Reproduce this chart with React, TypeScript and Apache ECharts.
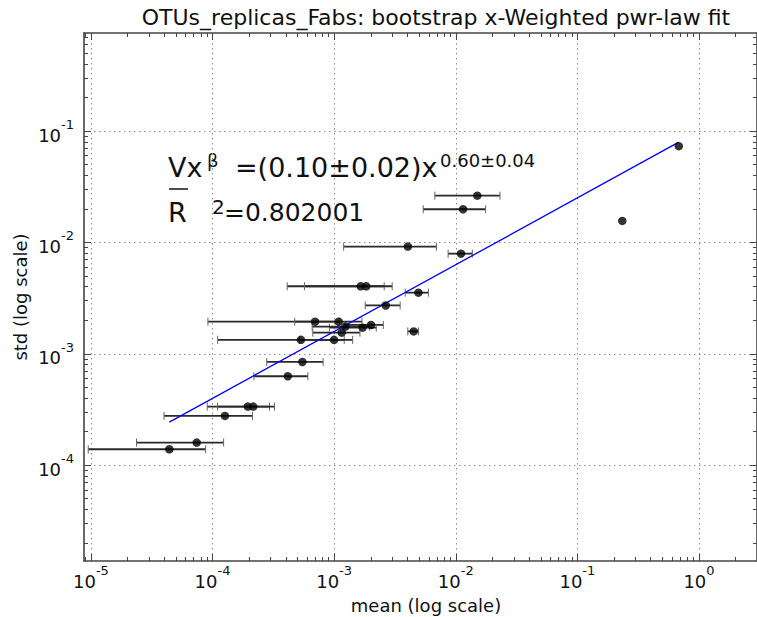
import React, { useEffect, useRef } from "react";
import * as echarts from "echarts";

const FONT = "DejaVu Sans, Verdana, sans-serif";

// Per-OTU mean abundance and standard deviation across replicas
const meanValues = [
  0.682, 0.234, 0.01503, 0.01148, 0.00404, 0.01104, 0.001655, 0.001836, 0.00493,
  0.002655, 0.000697, 0.001089, 0.00201, 0.001714, 0.001236, 0.001154, 0.00451,
  0.000533, 0.000998, 0.000548, 0.000416, 0.000195, 0.000216, 0.0001265, 0.0000741,
  0.0000441,
];
const stdValues = [
  0.0731, 0.0156, 0.0263, 0.01986, 0.00917, 0.00793, 0.00404, 0.00404, 0.00354,
  0.002716, 0.001945, 0.001945, 0.001815, 0.001718, 0.001755, 0.001549, 0.00159,
  0.001334, 0.001334, 0.000845, 0.000629, 0.000336, 0.000336, 0.000277, 0.0001596,
  0.000139,
];
// Bootstrap interval of the mean (horizontal error bars)
const meanLow = [
  0.682, 0.234, 0.00673, 0.0054, 0.001197, 0.00865, 0.000411, 0.00057, 0.00384,
  0.0018, 0.0000916, 0.000474, 0.00121, 0.000914, 0.000659, 0.000667, 0.00403,
  0.0001102, 0.000519, 0.000279, 0.000219, 0.0000905, 0.00011, 0.0000399, 0.0000237,
  0.0000095,
];
const meanHigh = [
  0.682, 0.234, 0.0231, 0.0176, 0.00693, 0.01368, 0.00258, 0.003, 0.00596, 0.00349,
  0.0011, 0.001694, 0.002535, 0.00222, 0.00195, 0.00163, 0.00493, 0.00121, 0.00142,
  0.000811, 0.000608, 0.000294, 0.000323, 0.000213, 0.0001233, 0.0000877,
];

// Fitted power law: std = V * mean^beta
const fitV = 0.1;
const fitBeta = 0.6;

const xTickExponents = [-5, -4, -3, -2, -1, 0];
const yTickExponents = [-4, -3, -2, -1];

const X_MIN = -5.057;
const X_MAX = 0.477;
const Y_MIN = -4.86;
const Y_MAX = -0.12;

const log10 = (v: number) => Math.log10(v);

function minorTicks(lo: number, hi: number): number[] {
  const out: number[] = [];
  for (let e = Math.floor(lo) - 1; e <= Math.ceil(hi); e++) {
    for (let k = 2; k <= 9; k++) {
      const v = e + Math.log10(k);
      if (v > lo && v < hi) out.push(v);
    }
  }
  return out;
}

const AXIS_COLOR = "#444";
const GRID_COLOR = "#8c8c8c";
const TEXT_COLOR = "#111";

const powerLabel = (v: number) => `{b|10}{s|${Math.round(v)}}`;
const powerRich = {
  b: { fontSize: 18, fontFamily: FONT, color: TEXT_COLOR, verticalAlign: "bottom", lineHeight: 26 },
  s: { fontSize: 13, fontFamily: FONT, color: TEXT_COLOR, verticalAlign: "top", lineHeight: 14 },
};

export default function App() {
  const ref = useRef<HTMLDivElement>(null);

  useEffect(() => {
    document.body.style.margin = "0";
    if (!ref.current) return;
    const chart = echarts.init(ref.current, undefined, { renderer: "svg" });

    const points = meanValues.map((m, i) => [log10(m), log10(stdValues[i])]);
    const bars = meanValues.map((_, i) => [log10(meanLow[i]), log10(meanHigh[i]), log10(stdValues[i])]);
    const xFirst = Math.min(...meanValues);
    const xLast = Math.max(...meanValues);
    const fitLine = [
      [log10(xFirst), log10(fitV) + fitBeta * log10(xFirst)],
      [log10(xLast), log10(fitV) + fitBeta * log10(xLast)],
    ];

    const xMinor = minorTicks(X_MIN, X_MAX);
    const yMinor = minorTicks(Y_MIN, Y_MAX);

    const gridRect = { left: 84, top: 33, width: 675, height: 528 };

    const visibleLine = { show: true, onZero: false, lineStyle: { color: AXIS_COLOR, width: 1.6 } };
    const hiddenLine = { show: false, onZero: false };

    const majorTick = (vals: number[]) => ({
      show: true,
      inside: true,
      length: 7,
      customValues: vals,
      lineStyle: { color: AXIS_COLOR, width: 1 },
    });
    const minorTick = (vals: number[]) => ({
      show: true,
      inside: true,
      length: 4,
      customValues: vals,
      lineStyle: { color: AXIS_COLOR, width: 1 },
    });
    const gridLine = { show: true, lineStyle: { color: GRID_COLOR, width: 1, type: [1.5, 3.5] } };

    const xAxis = (grid: number, position: string, major: boolean, labels: boolean) => ({
      type: "value",
      gridIndex: grid,
      position,
      min: X_MIN,
      max: X_MAX,
      axisLine: major ? visibleLine : hiddenLine,
      axisTick: major ? majorTick(xTickExponents) : minorTick(xMinor),
      axisLabel: labels
        ? { show: true, customValues: xTickExponents, formatter: powerLabel, rich: powerRich, margin: 3 }
        : { show: false },
      splitLine: labels ? gridLine : { show: false },
    });
    const yAxis = (grid: number, position: string, major: boolean, labels: boolean) => ({
      type: "value",
      gridIndex: grid,
      position,
      min: Y_MIN,
      max: Y_MAX,
      axisLine: major ? visibleLine : hiddenLine,
      axisTick: major ? majorTick(yTickExponents) : minorTick(yMinor),
      axisLabel: labels
        ? { show: true, customValues: yTickExponents, formatter: powerLabel, rich: powerRich, margin: 10 }
        : { show: false },
      splitLine: labels ? gridLine : { show: false },
    });

    chart.setOption({
      animation: false,
      backgroundColor: "#ffffff",
      grid: [{ ...gridRect }, { ...gridRect }],
      xAxis: [
        xAxis(0, "bottom", true, true),
        xAxis(0, "top", true, false),
        xAxis(1, "bottom", false, false),
        xAxis(1, "top", false, false),
      ],
      yAxis: [
        yAxis(0, "left", true, true),
        yAxis(0, "right", true, false),
        yAxis(1, "left", false, false),
        yAxis(1, "right", false, false),
      ],
      series: [
        {
          type: "custom",
          xAxisIndex: 0,
          yAxisIndex: 0,
          clip: true,
          encode: { x: [0, 1], y: 2 },
          data: bars,
          z: 2,
          renderItem: (_params: any, api: any) => {
            const lo = api.coord([api.value(0), api.value(2)]);
            const hi = api.coord([api.value(1), api.value(2)]);
            if (Math.abs(hi[0] - lo[0]) < 0.5) return null;
            const h = 4;
            return {
              type: "group",
              children: [
                {
                  type: "line",
                  shape: { x1: lo[0], y1: lo[1], x2: hi[0], y2: hi[1] },
                  style: { stroke: "#2a2a2a", lineWidth: 1.8 },
                },
                {
                  type: "line",
                  shape: { x1: lo[0], y1: lo[1] - h, x2: lo[0], y2: lo[1] + h },
                  style: { stroke: "#666", lineWidth: 1 },
                },
                {
                  type: "line",
                  shape: { x1: hi[0], y1: hi[1] - h, x2: hi[0], y2: hi[1] + h },
                  style: { stroke: "#666", lineWidth: 1 },
                },
              ],
            };
          },
        },
        {
          type: "line",
          xAxisIndex: 0,
          yAxisIndex: 0,
          data: fitLine,
          showSymbol: false,
          symbol: "none",
          lineStyle: { color: "#0000ff", width: 1.3 },
          z: 3,
        },
        {
          type: "scatter",
          xAxisIndex: 0,
          yAxisIndex: 0,
          data: points,
          symbol: "circle",
          symbolSize: 8.5,
          itemStyle: { color: "#000" },
          z: 4,
        },
      ],
      graphic: [
        {
          type: "text",
          x: 436,
          y: 17,
          style: {
            text: "OTUs_replicas_Fabs: bootstrap x-Weighted pwr-law fit",
            fontFamily: FONT,
            fontSize: 22,
            fill: TEXT_COLOR,
            align: "center",
            verticalAlign: "middle",
          },
        },
        {
          type: "text",
          x: 426,
          y: 605,
          style: {
            text: "mean (log scale)",
            fontFamily: FONT,
            fontSize: 18,
            fill: TEXT_COLOR,
            align: "center",
            verticalAlign: "middle",
          },
        },
        {
          type: "text",
          x: 20,
          y: 297,
          rotation: Math.PI / 2,
          style: {
            text: "std (log scale)",
            fontFamily: FONT,
            fontSize: 18,
            fill: TEXT_COLOR,
            align: "center",
            verticalAlign: "middle",
          },
        },
        {
          type: "text",
          x: 168,
          y: 167,
          style: { text: "Vx", fontFamily: FONT, fontSize: 27, fill: TEXT_COLOR, verticalAlign: "middle" },
        },
        {
          type: "text",
          x: 207,
          y: 160,
          style: { text: "β", fontFamily: FONT, fontSize: 18, fill: TEXT_COLOR, verticalAlign: "middle" },
        },
        {
          type: "text",
          x: 235,
          y: 167,
          style: {
            text: "=(0.10±0.02)x",
            fontFamily: FONT,
            fontSize: 27,
            fill: TEXT_COLOR,
            verticalAlign: "middle",
          },
        },
        {
          type: "text",
          x: 440,
          y: 160,
          style: { text: "0.60±0.04", fontFamily: FONT, fontSize: 18, fill: TEXT_COLOR, verticalAlign: "middle" },
        },
        {
          type: "text",
          x: 168,
          y: 212,
          style: { text: "R", fontFamily: FONT, fontSize: 27, fill: TEXT_COLOR, verticalAlign: "middle" },
        },
        {
          type: "line",
          shape: { x1: 169, y1: 189, x2: 188, y2: 189 },
          style: { stroke: TEXT_COLOR, lineWidth: 1.5 },
        },
        {
          type: "text",
          x: 212,
          y: 207,
          style: { text: "2", fontFamily: FONT, fontSize: 20, fill: TEXT_COLOR, verticalAlign: "middle" },
        },
        {
          type: "text",
          x: 224,
          y: 212,
          style: { text: "=0.802001", fontFamily: FONT, fontSize: 25, fill: TEXT_COLOR, verticalAlign: "middle" },
        },
      ],
    });

    return () => chart.dispose();
  }, []);

  return <div ref={ref} style={{ width: 757, height: 617 }} />;
}
